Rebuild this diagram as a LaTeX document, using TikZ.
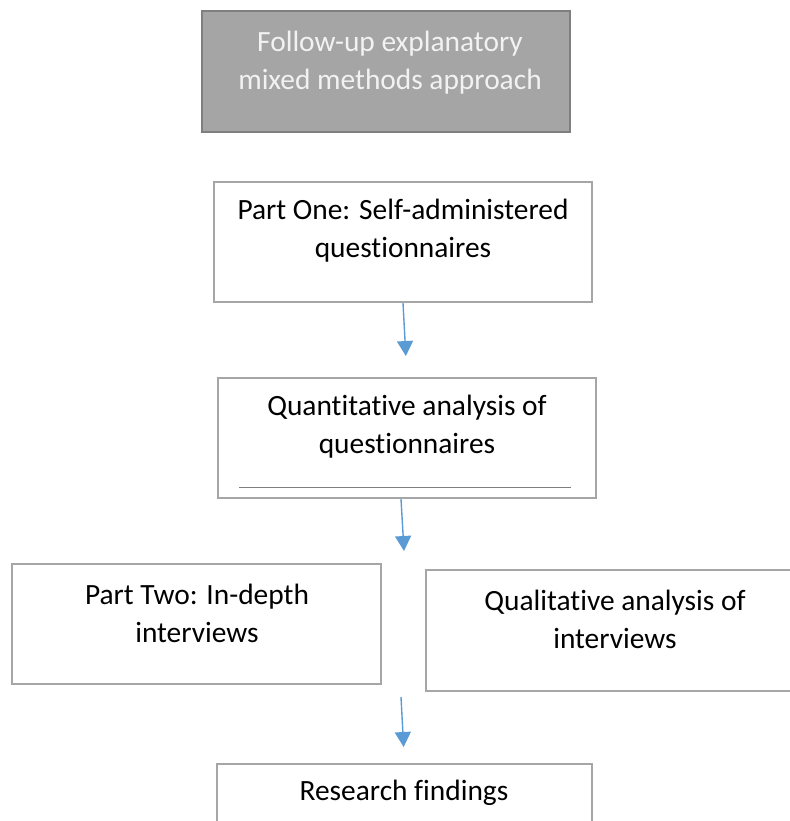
\documentclass[tikz,border=0pt]{standalone}
\usepackage{fontspec}
\setmainfont{Carlito}[Ligatures=NoCommon]
\usetikzlibrary{arrows.meta}

\definecolor{boxgray}{HTML}{A6A6A6}
\definecolor{approachgray}{HTML}{A5A5A5}
\definecolor{approachedge}{HTML}{7F7F7F}
\definecolor{lighttext}{HTML}{F2F2F2}
\definecolor{rulegray}{HTML}{7F7F7F}
\definecolor{arrowblue}{HTML}{5B9BD5}

\begin{document}
\begin{tikzpicture}[x=0.5pt, y=-0.5pt,
  stepbox/.style={draw=boxgray, line width=1pt, minimum width=189pt, minimum height=60pt, inner sep=0pt},
  boxtext/.style={align=center, font=\fontsize{14.7pt}{19pt}\selectfont},
  flow/.style={draw=arrowblue, line width=0.7pt, -{Triangle[width=8pt,length=7.5pt]}}]
  \useasboundingbox (0,0) rectangle (790,821);

  % Approach
  \node[stepbox, fill=approachgray, draw=approachedge, line width=1.25pt, minimum width=184pt, minimum height=60.5pt] (approach) at (386,71.5) {};
  \node[boxtext, text=lighttext] (approachlabel) at (390,63) {Follow-up explanatory\\mixed methods approach};

  % Part one
  \node[stepbox] (partone) at (403,242) {};
  \node[boxtext] (partonelabel) at (403,231) {Part One: Self-administered\\questionnaires};

  % Quantitative analysis
  \node[stepbox] (quant) at (407,438) {};
  \node[boxtext] (quantlabel) at (407,427) {Quantitative analysis of\\questionnaires};
  \draw[rulegray, line width=0.5pt] (239,487) -- (571,487);

  % Part two and qualitative analysis
  \node[stepbox, minimum width=184.5pt] (parttwo) at (196.5,624) {};
  \node[boxtext] (parttwolabel) at (197,613) {Part Two: In-depth\\interviews};
  \node[stepbox, minimum width=185pt, minimum height=60.5pt] (qual) at (611,630.5) {};
  \node[boxtext] (quallabel) at (615,619) {Qualitative analysis of\\interviews};

  % Findings
  \node[stepbox, minimum width=187.5pt] (findings) at (404.5,824) {};
  \node[boxtext] (findingslabel) at (404,793) {Research findings};

  \coordinate (splittip) at (404,551);
  \coordinate (joinstart) at (401,697);

  \draw[flow, shorten >=10.5pt] (partone.south) -- (quant.north);
  \draw[flow] ([xshift=-3pt]quant.south) -- (splittip);
  \draw[flow, shorten >=8pt] (joinstart) -- (findings.north);
\end{tikzpicture}
\end{document}
